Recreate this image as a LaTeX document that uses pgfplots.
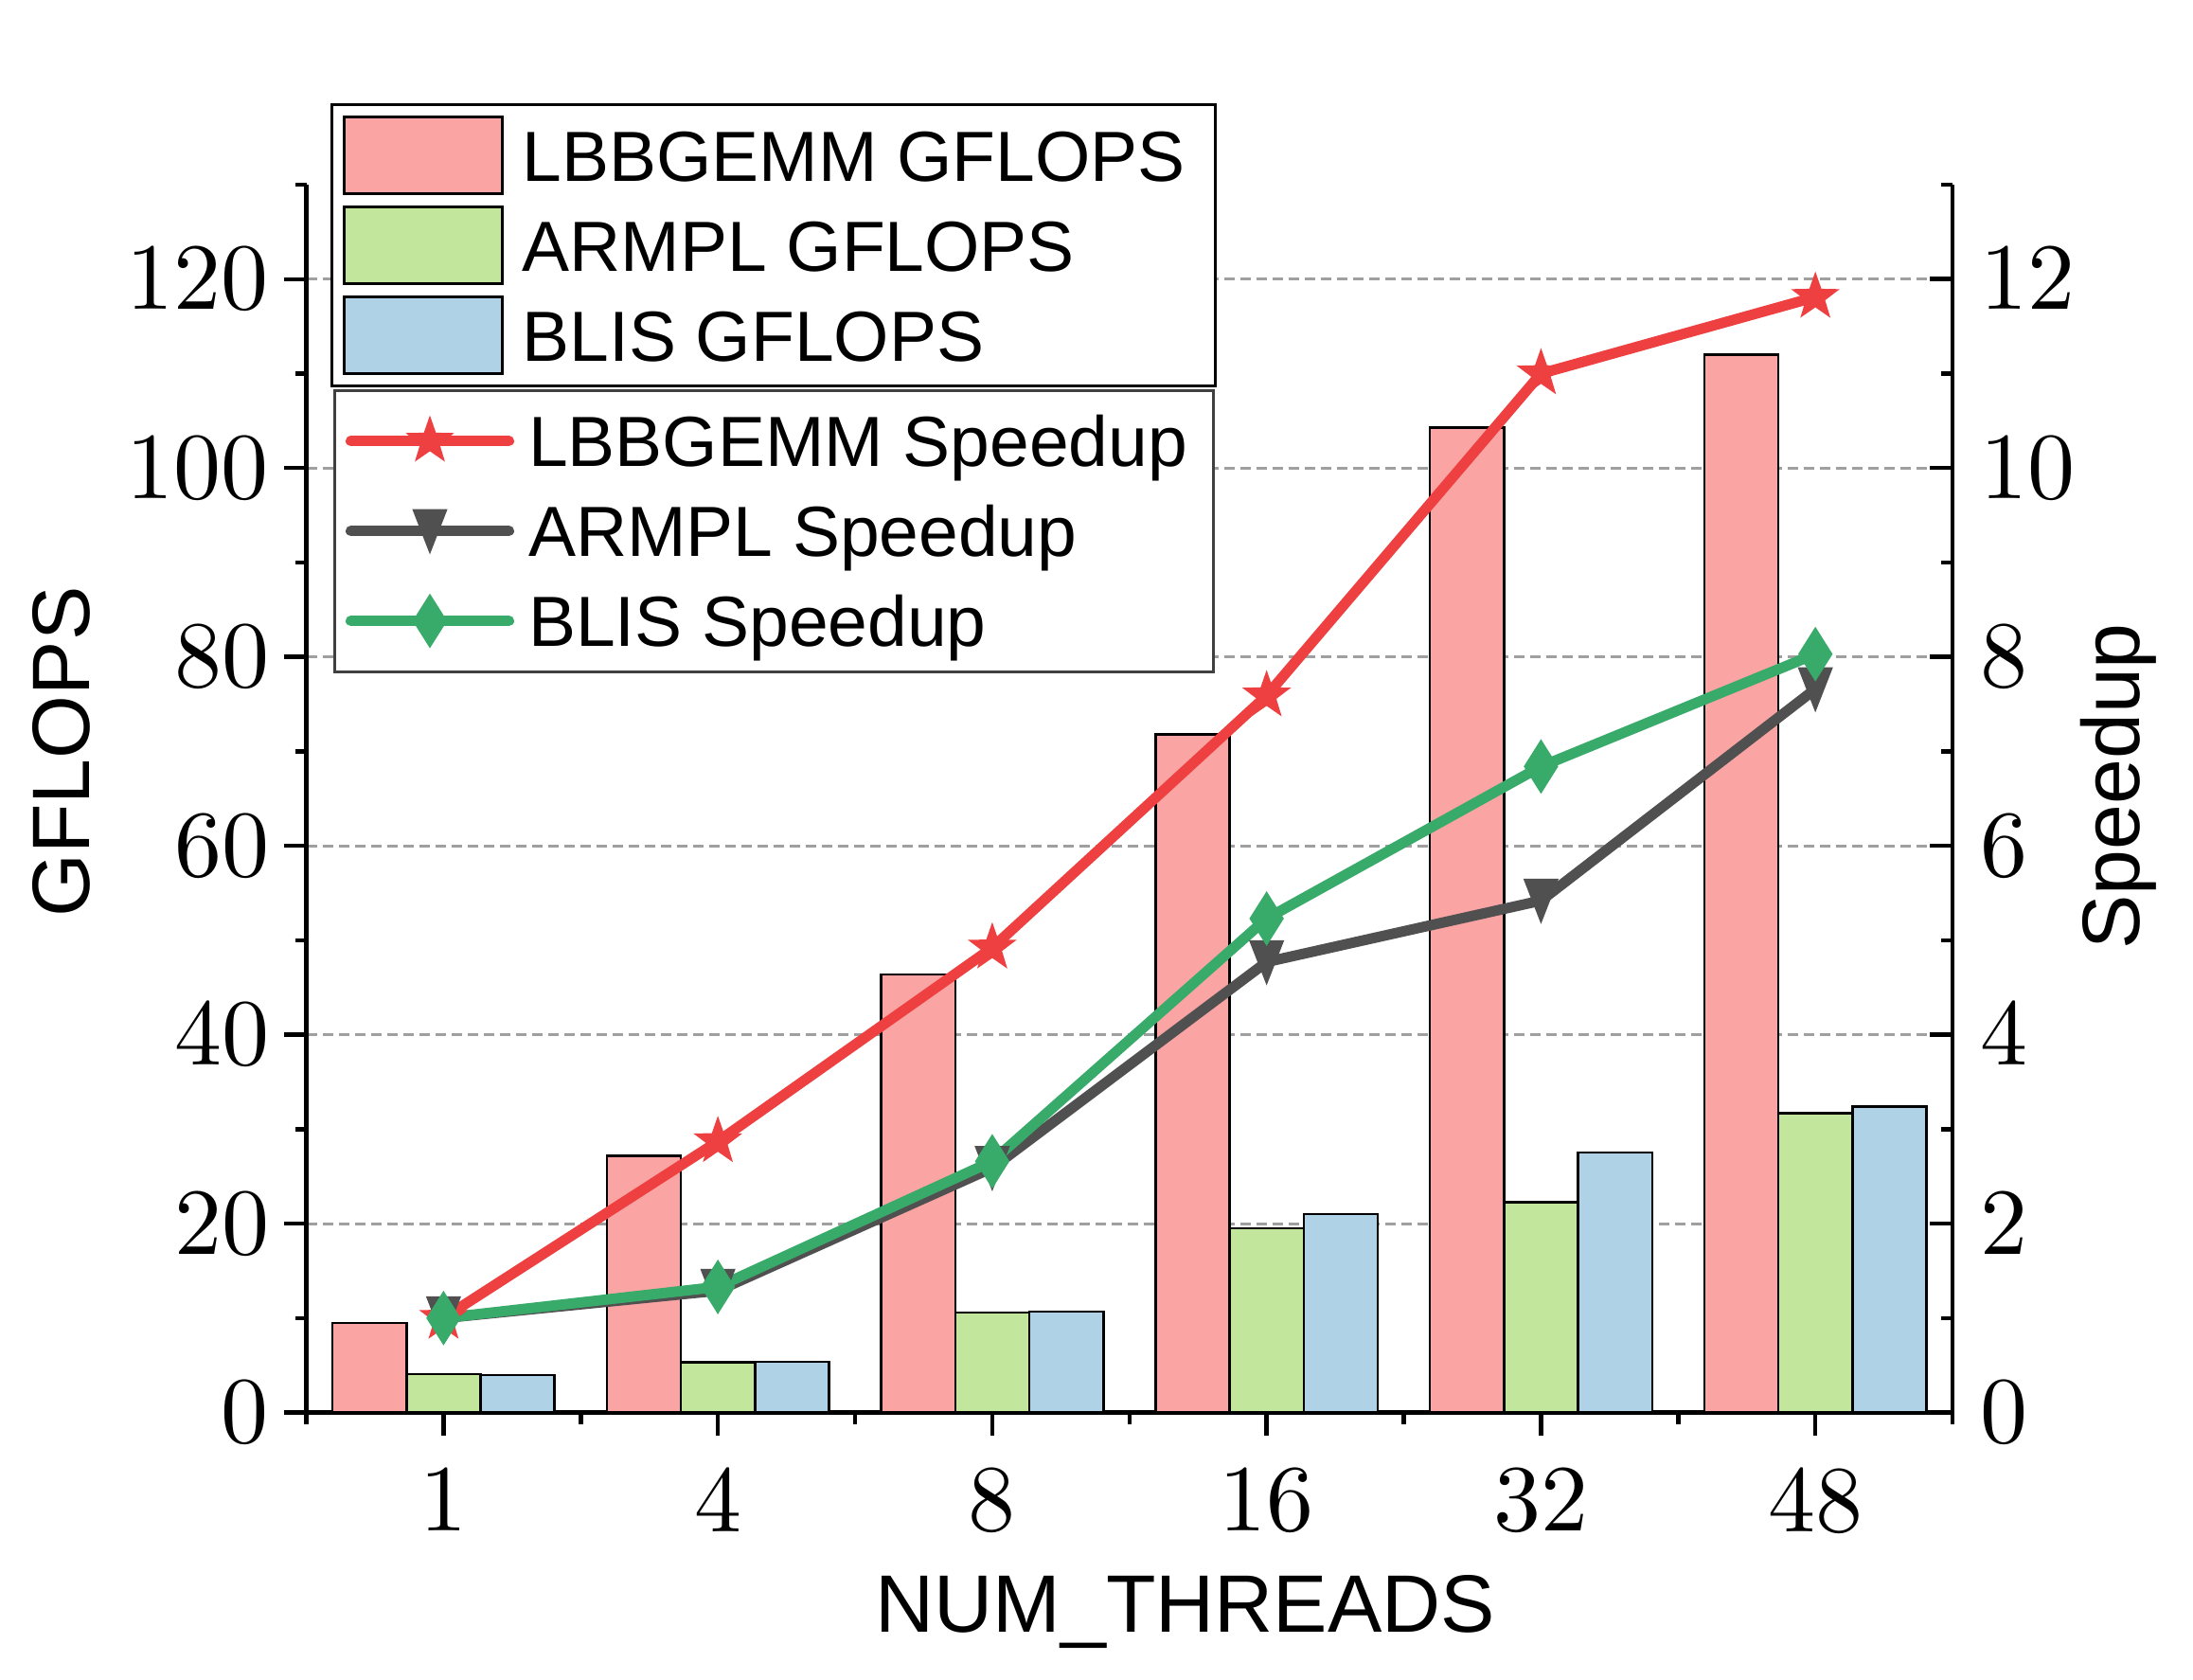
\documentclass[border=0pt]{standalone}
\usepackage{pgfplots}
\pgfplotsset{compat=1.18}
\usepackage{fontspec}
\newfontfamily\arialfont{Liberation Sans}

\definecolor{barpink}{RGB}{250,164,164}
\definecolor{bargreen}{RGB}{194,230,155}
\definecolor{barblue}{RGB}{175,210,231}
\definecolor{linered}{RGB}{238,64,64}
\definecolor{linegray}{RGB}{80,80,80}
\definecolor{linegreen}{RGB}{56,170,106}
\definecolor{legframe}{RGB}{64,64,64}

\pgfdeclareplotmark{fstar}{%
 \pgfpathmoveto{\pgfpointpolar{90}{\pgfplotmarksize}}%
 \pgfpathlineto{\pgfpointpolar{126}{0.4\pgfplotmarksize}}%
 \pgfpathlineto{\pgfpointpolar{162}{\pgfplotmarksize}}%
 \pgfpathlineto{\pgfpointpolar{198}{0.4\pgfplotmarksize}}%
 \pgfpathlineto{\pgfpointpolar{234}{\pgfplotmarksize}}%
 \pgfpathlineto{\pgfpointpolar{270}{0.4\pgfplotmarksize}}%
 \pgfpathlineto{\pgfpointpolar{306}{\pgfplotmarksize}}%
 \pgfpathlineto{\pgfpointpolar{342}{0.4\pgfplotmarksize}}%
 \pgfpathlineto{\pgfpointpolar{18}{\pgfplotmarksize}}%
 \pgfpathlineto{\pgfpointpolar{54}{0.4\pgfplotmarksize}}%
 \pgfpathclose\pgfusepathqfillstroke}
\pgfdeclareplotmark{tridown}{%
 \pgfpathmoveto{\pgfpoint{-0.78\pgfplotmarksize}{\pgfplotmarksize}}%
 \pgfpathlineto{\pgfpoint{0.78\pgfplotmarksize}{\pgfplotmarksize}}%
 \pgfpathlineto{\pgfpoint{0pt}{-\pgfplotmarksize}}%
 \pgfpathclose\pgfusepathqfillstroke}
\pgfdeclareplotmark{fdiamond}{%
 \pgfpathmoveto{\pgfpoint{0pt}{\pgfplotmarksize}}%
 \pgfpathlineto{\pgfpoint{0.63\pgfplotmarksize}{0pt}}%
 \pgfpathlineto{\pgfpoint{0pt}{-\pgfplotmarksize}}%
 \pgfpathlineto{\pgfpoint{-0.63\pgfplotmarksize}{0pt}}%
 \pgfpathclose\pgfusepathqfillstroke}

\tikzset{
  legfont/.style={font=\arialfont\fontsize{7.5}{9}\selectfont},
  labfont/.style={font=\arialfont\fontsize{8.6}{10}\selectfont},
}
\pgfplotsset{
  mybase/.style={
    scale only axis, width=173.85pt, height=129.65pt,
    at={(32.35pt,28.15pt)}, anchor=south west,
    xmin=-0.5, xmax=5.5, clip=false,
    major tick length=2.4pt, minor tick length=1.2pt,
    every tick/.style={line width=0.45pt, black},
    axis line style={line width=0.45pt},
    tick label style={font=\fontsize{10}{12}\selectfont},
    legend cell align=left,
  },
}

\begin{document}
\begin{tikzpicture}
\useasboundingbox (0,0) rectangle (231.6pt,177.3pt);
\begin{axis}[mybase,
  ymin=0, ymax=130,
  axis x line*=bottom, axis y line*=left,
  xtick={0,...,5}, xticklabels={1,4,8,16,32,48},
  minor xtick={-0.5,0.5,...,5.5},
  ytick={0,20,...,120}, minor ytick={10,30,...,130},
  tick align=outside,
  xticklabel style={inner sep=0pt, anchor=north, yshift=-3.25pt},
  yticklabel style={inner sep=0pt, anchor=east, xshift=-1.35pt},
  ymajorgrids, grid style={dash pattern=on 1.1pt off 0.6pt, line width=0.3pt, color=gray!75},
  legend style={at={(axis description cs:0.0144,1.0663)}, anchor=north west,
    draw=black, line width=0.3pt, fill=white, legfont,
    inner xsep=1.2pt, inner ysep=0.6pt, row sep=0pt,
    nodes={inner xsep=2.0pt, inner ysep=0.3pt, text height=7.15pt, text depth=1.75pt}},
  legend image code/.code={\draw[#1] (0pt,-4.05pt) rectangle (16.7pt,4.05pt);},
]
\addplot[ybar, bar width=0.27, bar shift=-0.27, fill=barpink, draw=black, line width=0.25pt]
  coordinates {(0,9.5) (1,27.2) (2,46.4) (3,71.8) (4,104.3) (5,112.0)};
\addplot[ybar, bar width=0.27, bar shift=0, fill=bargreen, draw=black, line width=0.25pt]
  coordinates {(0,4.05) (1,5.3) (2,10.6) (3,19.5) (4,22.25) (5,31.7)};
\addplot[ybar, bar width=0.27, bar shift=0.27, fill=barblue, draw=black, line width=0.25pt]
  coordinates {(0,3.95) (1,5.35) (2,10.7) (3,21.0) (4,27.55) (5,32.4)};
\legend{LBBGEMM GFLOPS, ARMPL GFLOPS, BLIS GFLOPS}
\node[labfont, anchor=base] at (axis description cs:0.534,-0.179) {NUM\_THREADS};
\node[labfont, rotate=90, anchor=center] at (axis description cs:-0.1487,0.538) {GFLOPS};
\end{axis}

\begin{axis}[mybase,
  ymin=0, ymax=13,
  axis x line=none, axis y line*=right,
  ytick={0,2,...,12}, minor ytick={1,3,...,13},
  ytick align=inside,
  yticklabel style={inner sep=0pt, anchor=west, xshift=2.7pt},
  legend style={at={(axis description cs:0.0161,0.8337)}, anchor=north west,
    draw=legframe, line width=0.3pt, fill=white, legfont,
    inner xsep=1.2pt, inner ysep=0.6pt, row sep=0pt,
    nodes={inner xsep=1.5pt, inner ysep=0.3pt, text height=7.15pt, text depth=1.75pt}},
  legend image code/.code={\draw[mark repeat=2, mark phase=2, line cap=round, #1] plot coordinates {(0pt,0pt) (8.35pt,0pt) (16.7pt,0pt)};},
]
\addplot[linered, line width=1.1pt, mark=fstar, mark size=2.4pt, mark options={line width=0.2pt, fill=linered}]
  coordinates {(0,1.0) (1,2.87) (2,4.92) (3,7.59) (4,11.0) (5,11.81)};
\addplot[linegray, line width=1.1pt, mark=tridown, mark size=2.2pt, mark options={line width=0.2pt, fill=linegray}]
  coordinates {(0,1.0) (1,1.29) (2,2.59) (3,4.77) (4,5.42) (5,7.66)};
\addplot[linegreen, line width=1.1pt, mark=fdiamond, mark size=2.7pt, mark options={line width=0.2pt, fill=linegreen}]
  coordinates {(0,1.0) (1,1.33) (2,2.66) (3,5.23) (4,6.84) (5,8.03)};
\legend{LBBGEMM Speedup, ARMPL Speedup, BLIS Speedup}
\node[labfont, rotate=90, anchor=center] at (axis description cs:1.1007,0.510) {Speedup};
\end{axis}
\end{tikzpicture}
\end{document}
